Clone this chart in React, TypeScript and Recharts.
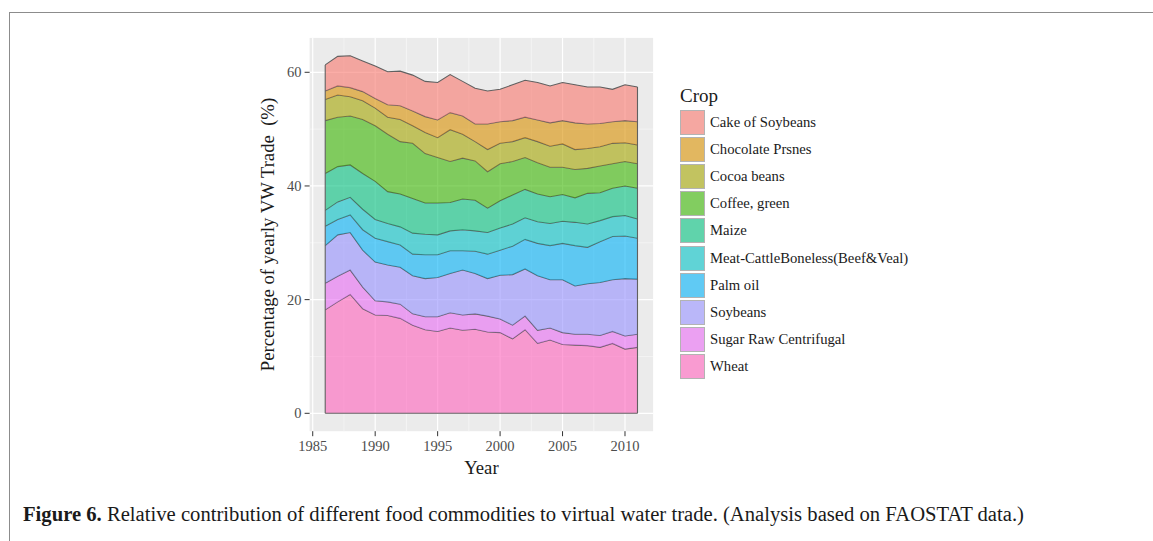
import React from 'react';
import { AreaChart, Area, XAxis, YAxis, CartesianGrid, ReferenceLine } from 'recharts';

// years on the x axis
const years = [1986, 1987, 1988, 1989, 1990, 1991, 1992, 1993, 1994, 1995, 1996, 1997, 1998,
  1999, 2000, 2001, 2002, 2003, 2004, 2005, 2006, 2007, 2008, 2009, 2010, 2011];

// share of yearly VW trade (%) per crop
const wheat = [18.2, 19.6, 20.9, 18.4, 17.3, 17.2, 16.7, 15.5, 14.7, 14.4, 15.0, 14.6, 14.8,
  14.3, 14.2, 13.1, 14.7, 12.3, 12.9, 12.1, 12.0, 11.9, 11.6, 12.3, 11.3, 11.6];
const sugar = [4.7, 4.5, 4.3, 3.8, 2.5, 2.4, 2.5, 2.0, 2.3, 2.6, 2.7, 2.7, 2.7,
  2.8, 2.4, 2.4, 2.4, 2.3, 2.1, 2.1, 1.9, 2.0, 2.1, 2.1, 2.3, 2.3];
const soybeans = [6.6, 7.3, 6.6, 6.5, 6.8, 6.5, 6.5, 6.7, 6.7, 6.9, 6.9, 7.9, 7.1,
  6.6, 7.7, 8.9, 8.3, 9.6, 8.5, 9.3, 8.5, 8.9, 9.3, 9.1, 10.1, 9.7];
const palmOil = [3.4, 2.7, 3.1, 3.6, 4.2, 4.1, 3.9, 3.8, 4.2, 4.0, 4.0, 3.4, 3.9,
  4.3, 4.4, 5.0, 5.2, 5.7, 6.0, 6.4, 7.1, 6.4, 7.2, 7.6, 7.5, 7.2];
const meat = [2.8, 3.1, 3.1, 3.6, 3.3, 3.2, 3.2, 3.7, 3.6, 3.5, 3.5, 3.7, 3.6,
  3.8, 3.9, 3.9, 3.8, 3.8, 3.9, 3.9, 4.1, 4.1, 3.7, 3.5, 3.6, 3.4];
const maize = [6.5, 6.2, 5.7, 6.3, 6.7, 5.6, 5.8, 6.1, 5.5, 5.6, 5.0, 5.4, 5.4,
  4.3, 4.8, 5.1, 5.0, 4.9, 4.7, 4.7, 4.3, 5.4, 4.9, 5.0, 5.2, 5.4];
const coffee = [9.3, 8.7, 8.6, 9.5, 9.8, 10.1, 9.2, 9.7, 8.7, 8.0, 7.2, 7.2, 6.9,
  6.4, 6.5, 5.9, 5.6, 5.5, 5.2, 4.8, 5.0, 4.4, 4.7, 4.3, 4.3, 4.3];
const cocoa = [3.7, 3.9, 3.4, 3.3, 3.1, 3.0, 3.9, 3.1, 3.7, 3.5, 5.6, 4.2, 3.4,
  3.9, 3.6, 3.5, 3.5, 3.7, 3.7, 4.1, 3.5, 3.5, 3.4, 3.6, 3.3, 3.3];
const chocolate = [1.5, 1.6, 1.6, 1.6, 1.7, 2.2, 2.4, 2.6, 2.8, 3.1, 3.0, 3.2, 3.1,
  4.5, 3.8, 3.7, 3.6, 3.8, 4.1, 4.1, 4.7, 4.3, 4.1, 3.8, 3.9, 4.1];
const cake = [4.6, 5.2, 5.6, 5.4, 5.7, 5.8, 6.1, 6.3, 6.2, 6.6, 6.7, 6.1, 6.3,
  5.8, 5.7, 6.3, 6.5, 6.6, 6.5, 6.7, 6.7, 6.5, 6.4, 5.7, 6.3, 6.1];

const xTicks = [1985, 1990, 1995, 2000, 2005, 2010];
const yTicks = [0, 20, 40, 60];
const xMinor = [1987.5, 1992.5, 1997.5, 2002.5, 2007.5];
const yMinor = [10, 30, 50];

// bottom to top of the stack
const series = [
  { key: 'wheat', name: 'Wheat', values: wheat, color: '#FF62BC' },
  { key: 'sugar', name: 'Sugar Raw Centrifugal', values: sugar, color: '#E76BF3' },
  { key: 'soybeans', name: 'Soybeans', values: soybeans, color: '#9590FF' },
  { key: 'palm', name: 'Palm oil', values: palmOil, color: '#00B0F6' },
  { key: 'meat', name: 'Meat-CattleBoneless(Beef&Veal)', values: meat, color: '#00BFC4' },
  { key: 'maize', name: 'Maize', values: maize, color: '#00BF7D' },
  { key: 'coffee', name: 'Coffee, green', values: coffee, color: '#39B600' },
  { key: 'cocoa', name: 'Cocoa beans', values: cocoa, color: '#A3A500' },
  { key: 'chocolate', name: 'Chocolate Prsnes', values: chocolate, color: '#D89000' },
  { key: 'cake', name: 'Cake of Soybeans', values: cake, color: '#F8766D' },
];

const data = years.map((year, i) => {
  const row: Record<string, number> = { year };
  series.forEach(s => { row[s.key] = s.values[i]; });
  return row;
});

const firstTotal = series.reduce((sum, s) => sum + s.values[0], 0);
const lastTotal = series.reduce((sum, s) => sum + s.values[s.values.length - 1], 0);

const serif = '"Liberation Serif", "Times New Roman", serif';
const tickStyle = { fill: '#4D4D4D', fontSize: 14.5, fontFamily: serif };
const outline = '#606060';

function CropLegend() {
  return (
    <div style={{ position: 'absolute', left: 680, top: 85, fontFamily: serif, color: '#1a1a1a' }}>
      <div style={{ fontSize: 19, marginBottom: 2, lineHeight: '22px' }}>Crop</div>
      {[...series].reverse().map(s => (
        <div key={s.key} style={{ display: 'flex', alignItems: 'center', height: 27.1 }}>
          <div style={{ width: 25, height: 25, background: '#F2F2F2' }}>
            <div style={{
              width: 23, height: 23, border: '1px solid #8a8a8a',
              background: s.color, opacity: 0.6,
            }} />
          </div>
          <span style={{ fontSize: 14.7, marginLeft: 5, whiteSpace: 'nowrap' }}>{s.name}</span>
        </div>
      ))}
    </div>
  );
}

export default function App() {
  return (
    <div style={{ position: 'absolute', left: 0, top: 0, width: 1153, height: 541, background: '#fff', overflow: 'hidden' }}>
      {/* figure frame */}
      <div style={{
        position: 'absolute', left: 9, top: 12, width: 1160, height: 560,
        borderLeft: '1.5px solid #8c8c8c', borderTop: '1.5px solid #8c8c8c',
      }} />

      <div style={{ position: 'absolute', left: 0, top: 0 }}>
        <AreaChart
          width={1153}
          height={541}
          data={data}
          margin={{ top: 37.9, right: 499.9, bottom: 79.8, left: 269.6 }}
        >
          <CartesianGrid
            fill="#EBEBEB"
            stroke="#FAFAFA"
            strokeWidth={0.6}
            horizontalValues={yMinor}
            verticalValues={xMinor}
          />
          <CartesianGrid
            stroke="#FFFFFF"
            strokeWidth={1.2}
            horizontalValues={yTicks}
            verticalValues={xTicks}
          />
          <XAxis
            dataKey="year"
            type="number"
            domain={[1984.75, 2012.25]}
            ticks={xTicks}
            allowDataOverflow
            axisLine={false}
            tickSize={5}
            tickMargin={5}
            tickLine={{ stroke: '#333333' }}
            tick={tickStyle}
            height={30}
          />
          <YAxis
            type="number"
            domain={[-3.15, 66.05]}
            ticks={yTicks}
            allowDataOverflow
            axisLine={false}
            tickSize={5}
            tickMargin={3}
            tickLine={{ stroke: '#333333' }}
            tick={tickStyle}
            width={40}
          />
          {series.map(s => (
            <Area
              key={s.key}
              type="linear"
              dataKey={s.key}
              name={s.name}
              stackId="1"
              fill={s.color}
              fillOpacity={0.6}
              stroke={outline}
              strokeWidth={1.1}
              isAnimationActive={false}
              dot={false}
              activeDot={false}
            />
          ))}
          <ReferenceLine segment={[{ x: years[0], y: 0 }, { x: years[0], y: firstTotal }]} stroke={outline} strokeWidth={1.1} />
          <ReferenceLine segment={[{ x: years[years.length - 1], y: 0 }, { x: years[years.length - 1], y: lastTotal }]} stroke={outline} strokeWidth={1.1} />
          <ReferenceLine segment={[{ x: years[0], y: 0 }, { x: years[years.length - 1], y: 0 }]} stroke={outline} strokeWidth={1.1} />
        </AreaChart>
      </div>

      <CropLegend />

      {/* axis titles and caption */}
      <svg width={1153} height={541} style={{ position: 'absolute', left: 0, top: 0, pointerEvents: 'none' }}>
        <text x={481.4} y={474} textAnchor="middle" fontFamily={serif} fontSize={18.7} fill="#1a1a1a">Year</text>
        <text
          x={0}
          y={0}
          transform="translate(274 234.5) rotate(-90)"
          textAnchor="middle"
          fontFamily={serif}
          fontSize={18.7}
          fill="#1a1a1a"
          style={{ whiteSpace: 'pre' }}
        >
          Percentage of yearly VW Trade  (%)
        </text>
        <text x={23} y={521} fontFamily={serif} fontSize={20} fill="#1a1a1a" textLength={1001} lengthAdjust="spacingAndGlyphs">
          <tspan fontWeight="bold">Figure 6.</tspan> Relative contribution of different food commodities to virtual water trade. (Analysis based on FAOSTAT data.)
        </text>
      </svg>
    </div>
  );
}
